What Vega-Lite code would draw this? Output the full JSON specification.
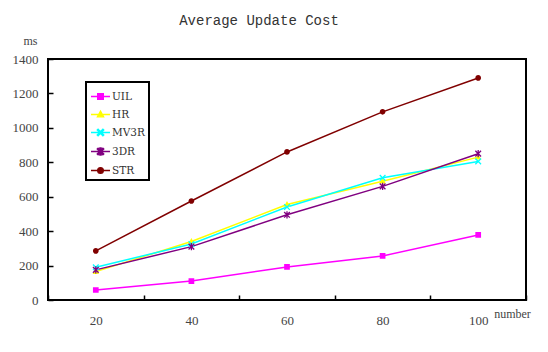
{
  "$schema": "https://vega.github.io/schema/vega-lite/v6.json",
  "width": 478,
  "height": 241,
  "autosize": {"type": "none"},
  "padding": {"left": 48, "top": 59, "right": 22, "bottom": 52},
  "background": "white",
  "title": {
    "text": "Average Update Cost",
    "font": "Liberation Mono",
    "fontSize": 14,
    "fontWeight": "normal",
    "color": "#333333",
    "dx": -28,
    "offset": 6
  },
  "config": {
    "view": {"stroke": "black", "strokeWidth": 2},
    "axis": {
      "grid": false,
      "domain": false,
      "tickColor": "black",
      "tickWidth": 1.5,
      "labelFont": "Liberation Serif",
      "labelFontSize": 13,
      "labelColor": "#444444",
      "titleFont": "Liberation Serif",
      "titleFontSize": 12,
      "titleFontWeight": "normal",
      "titleColor": "#444444"
    },
    "legend": {
      "orient": "none",
      "legendX": 38,
      "legendY": 23,
      "padding": 4,
      "rowPadding": 2,
      "strokeColor": "black",
      "labelFont": "DejaVu Serif",
      "labelFontSize": 10.5,
      "labelColor": "#333333",
      "labelOffset": 1,
      "symbolSize": 361,
      "symbolStrokeWidth": 1.3
    }
  },
  "data": {
    "values": [
      {"series": "UIL", "number": 20, "value": 58},
      {"series": "UIL", "number": 40, "value": 110},
      {"series": "UIL", "number": 60, "value": 192},
      {"series": "UIL", "number": 80, "value": 256},
      {"series": "UIL", "number": 100, "value": 378},
      {"series": "HR", "number": 20, "value": 165},
      {"series": "HR", "number": 40, "value": 340},
      {"series": "HR", "number": 60, "value": 555},
      {"series": "HR", "number": 80, "value": 690},
      {"series": "HR", "number": 100, "value": 830},
      {"series": "MV3R", "number": 20, "value": 190},
      {"series": "MV3R", "number": 40, "value": 325},
      {"series": "MV3R", "number": 60, "value": 540},
      {"series": "MV3R", "number": 80, "value": 710},
      {"series": "MV3R", "number": 100, "value": 805},
      {"series": "3DR", "number": 20, "value": 175},
      {"series": "3DR", "number": 40, "value": 310},
      {"series": "3DR", "number": 60, "value": 495},
      {"series": "3DR", "number": 80, "value": 660},
      {"series": "3DR", "number": 100, "value": 850},
      {"series": "STR", "number": 20, "value": 285},
      {"series": "STR", "number": 40, "value": 575},
      {"series": "STR", "number": 60, "value": 860},
      {"series": "STR", "number": 80, "value": 1093},
      {"series": "STR", "number": 100, "value": 1290}
    ]
  },
  "encoding": {
    "x": {
      "field": "number",
      "type": "ordinal",
      "scale": {"type": "band", "paddingInner": 0, "paddingOuter": 0},
      "axis": {
        "labelAngle": 0,
        "tickBand": "extent",
        "tickSize": -5,
        "labelPadding": 19,
        "title": "number",
        "titleX": 464,
        "titleY": 13,
        "titleAlign": "center",
        "titleBaseline": "middle"
      }
    },
    "y": {
      "field": "value",
      "type": "quantitative",
      "scale": {"domain": [0, 1400]},
      "axis": {
        "values": [0, 200, 400, 600, 800, 1000, 1200, 1400],
        "format": "d",
        "tickSize": -5,
        "labelPadding": 15,
        "title": "ms",
        "titleAngle": 0,
        "titleX": -18,
        "titleY": -19,
        "titleAlign": "center",
        "titleBaseline": "middle"
      }
    },
    "color": {
      "field": "series",
      "type": "nominal",
      "scale": {
        "domain": ["UIL", "HR", "MV3R", "3DR", "STR"],
        "range": ["#ff00ff", "#ffff00", "#00ffff", "#800080", "#800000"]
      },
      "legend": {
        "title": null,
        "rowPadding": 2,
        "labelOffset": 1,
        "encode": {
          "legend": {"update": {"strokeWidth": {"value": 2}}},
          "symbols": {"update": {"stroke": {"scale": "color", "field": "value"}, "strokeWidth": {"value": 1.3}, "opacity": {"value": 1}}}
        }
      }
    }
  },
  "layer": [
    {
      "mark": {"type": "line", "strokeWidth": 1.5}
    },
    {
      "mark": {"type": "point", "filled": true, "size": 361, "opacity": 1},
      "encoding": {
        "shape": {
          "field": "series",
          "type": "nominal",
          "scale": {
            "domain": ["UIL", "HR", "MV3R", "3DR", "STR"],
            "range": [
              "M-1,0H1M-0.3,-0.3H0.3V0.3H-0.3Z",
              "M-1,0H1M0,-0.36L0.33,0.24H-0.33Z",
              "M-1,0H1M-0.252,-0.348L0.348,0.252L0.252,0.348L-0.348,-0.252ZM-0.348,0.252L0.252,-0.348L0.348,-0.252L-0.252,0.348Z",
              "M-1,0H1M-0.252,-0.348L0.348,0.252L0.252,0.348L-0.348,-0.252ZM-0.348,0.252L0.252,-0.348L0.348,-0.252L-0.252,0.348ZM-0.068,-0.38H0.068V0.38H-0.068Z",
              "M-1,0H1M0.3,0A0.3,0.3 0 1,1 -0.3,0A0.3,0.3 0 1,1 0.3,0Z"
            ]
          },
          "legend": {
            "title": null,
            "rowPadding": 2,
            "labelOffset": 1,
            "encode": {
              "legend": {"update": {"strokeWidth": {"value": 2}}},
              "symbols": {"update": {"stroke": {"scale": "color", "field": "value"}, "strokeWidth": {"value": 1.3}, "opacity": {"value": 1}}}
            }
          }
        }
      }
    }
  ]
}
